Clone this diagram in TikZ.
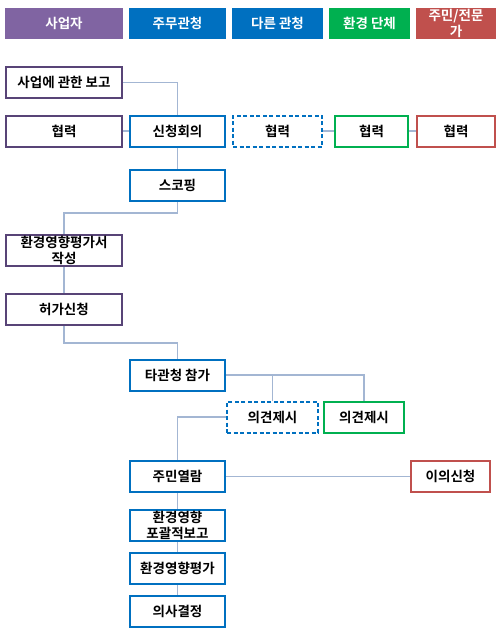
\documentclass[tikz,border=0pt]{standalone}
\usepackage{fontspec}
\setmainfont{Noto Sans CJK KR}[BoldFont={Noto Sans CJK KR Bold}]
\usepackage{tikz}
\usetikzlibrary{positioning}

\definecolor{bizpurple}{HTML}{8064A2}
\definecolor{bizline}{HTML}{584477}
\definecolor{govblue}{HTML}{0070C0}
\definecolor{ngogreen}{HTML}{00B050}
\definecolor{citred}{HTML}{C0504D}
\definecolor{linkgray}{HTML}{A3B6D3}

\begin{document}
\begin{tikzpicture}[x=1pt,y=-1pt,font=\fontsize{13.5}{15.5}\selectfont\bfseries,
head/.style={rectangle,minimum height=31pt,text=white,align=center,inner sep=1pt},
box/.style={rectangle,fill=white,line width=2pt,minimum height=31pt,align=center,inner sep=1pt},
bizbox/.style={box,draw=bizline,minimum width=116pt},
govbox/.style={box,draw=govblue,minimum width=95pt},
dashbox/.style={box,draw=govblue,dash pattern=on 4pt off 2.5pt},
link/.style={draw=linkgray,line width=1.1pt}]
\useasboundingbox (0,0) rectangle (501,633);

% header row
\node (h_biz) [head,fill=bizpurple,minimum width=118pt] at (64,23.5) {사업자};
\node (h_gov) [head,fill=govblue,minimum width=97pt] at (177.5,23.5) {주무관청};
\node (h_other) [head,fill=govblue,minimum width=91pt] at (277.5,23.5) {다른 관청};
\node (h_ngo) [head,fill=ngogreen,minimum width=81pt] at (369.5,23.5) {환경 단체};
\node (h_cit) [head,fill=citred,minimum width=80pt] at (456,23.5) {주민/전문\\가};

% boxes
\node (report) [bizbox] at (64,82.5) {사업에 관한 보고};
\node (coop_a) [bizbox] at (64,131) {협력};
\node (meeting) [govbox] at (177.5,131) {신청회의};
\node (coop_b) [dashbox,minimum width=89pt] at (277.5,131) {협력};
\node (coop_c) [box,draw=ngogreen,minimum width=73pt] at (371.5,131) {협력};
\node (coop_d) [box,draw=citred,minimum width=78pt] at (456,131) {협력};
\node (scoping) [govbox] at (177.5,185.5) {스코핑};
\node (draft) [bizbox] at (64,250.5) {환경영향평가서\\작성};
\node (permit) [bizbox] at (64,309.5) {허가신청};
\node (others) [govbox] at (177.5,375) {타관청 참가};
\node (opinion_b) [dashbox,minimum width=91pt] at (272.5,417) {의견제시};
\node (opinion_c) [box,draw=ngogreen,minimum width=80pt] at (364,417) {의견제시};
\node (display) [govbox] at (177.5,476.5) {주민열람};
\node (objection) [box,draw=citred,minimum width=79pt] at (450.5,476.5) {이의신청};
\node (summary) [govbox] at (177.5,525.5) {환경영향\\포괄적보고};
\node (eia) [govbox] at (177.5,568.5) {환경영향평가};
\node (decision) [govbox] at (177.5,611.5) {의사결정};

% connectors
\draw[link] (report.east) -| (meeting.north);
\draw[link] (coop_a.east) -- (meeting.west);
\draw[link] (coop_b.east) -- (coop_c.west);
\draw[link] (coop_c.east) -- (coop_d.west);
\draw[link] (meeting.south) -- (scoping.north);
\draw[link] (scoping.south) -- ++(0,11) -| (draft.north);
\draw[link] (draft.south) -- (permit.north);
\draw[link] (permit.south) -- ++(0,17) -| (others.north);
\draw[link] (others.east) -| (opinion_b.north);
\draw[link] (opinion_b.north |- others.east) -| (opinion_c.north);
\draw[link] (opinion_b.west) -| (display.north);
\draw[link] (display.east) -- (objection.west);
\draw[link] (display.south) -- (summary.north);
\draw[link] (summary.south) -- (eia.north);
\draw[link] (eia.south) -- (decision.north);

\end{tikzpicture}
\end{document}
